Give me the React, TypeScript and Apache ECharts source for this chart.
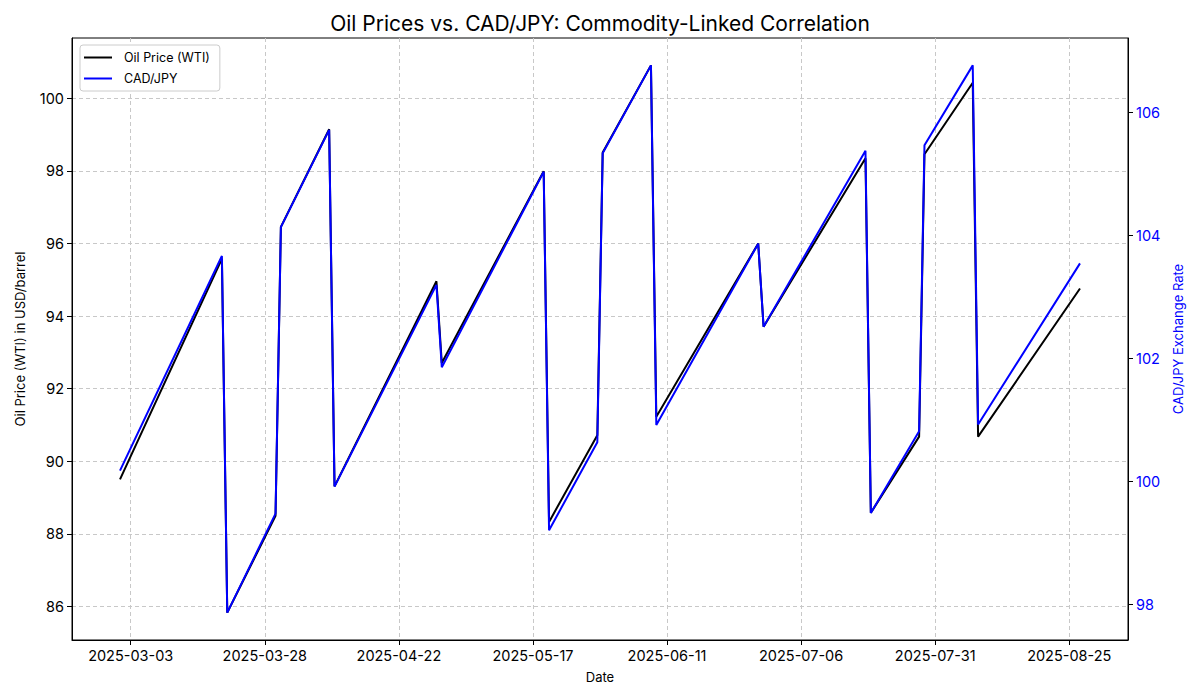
import React, { useEffect, useRef } from "react";
import * as echarts from "echarts";

// corner points of the two series
const dates = [
  "2025-03-01", "2025-03-20", "2025-03-21", "2025-03-30", "2025-03-31", "2025-04-09",
  "2025-04-10", "2025-04-29", "2025-04-30", "2025-05-19", "2025-05-20", "2025-05-29",
  "2025-05-30", "2025-06-08", "2025-06-09", "2025-06-28", "2025-06-29", "2025-07-18",
  "2025-07-19", "2025-07-28", "2025-07-29", "2025-08-07", "2025-08-08", "2025-08-27",
];

const oilPrice = [
  89.5, 95.58, 85.83, 88.5, 96.46, 99.15, 89.31, 94.96, 92.71, 97.99, 88.33, 90.72,
  98.51, 100.91, 91.23, 96.0, 93.71, 98.35, 88.58, 90.68, 98.46, 100.43, 90.68, 94.76,
];

const cadJpy = [
  100.18, 103.67, 97.87, 99.48, 104.14, 105.72, 99.92, 103.2, 101.86, 105.04, 99.21, 100.64,
  105.34, 106.77, 100.92, 103.87, 102.52, 105.38, 99.49, 100.82, 105.47, 106.77, 100.93, 103.55,
];

const dateTicks = [
  "2025-03-03", "2025-03-28", "2025-04-22", "2025-05-17",
  "2025-06-11", "2025-07-06", "2025-07-31", "2025-08-25",
];
const oilTicks = [86, 88, 90, 92, 94, 96, 98, 100];
const cadTicks = [98, 100, 102, 104, 106];

const DAY = 86400000;
const BASE = Date.UTC(2025, 2, 3);
const toDay = (s: string) => (Date.parse(s + "T00:00:00Z") - BASE) / DAY;
const fromDay = (d: number) => new Date(BASE + Math.round(d) * DAY).toISOString().slice(0, 10);

// matplotlib-like 5% margins
const pad = (vals: number[]) => {
  const lo = Math.min(...vals);
  const hi = Math.max(...vals);
  const m = (hi - lo) * 0.05;
  return [lo - m, hi + m];
};

const FONT = "Inter";

const App = () => {
  const chartRef = useRef<HTMLDivElement>(null);

  useEffect(() => {
    document.body.style.margin = "0";
    if (!chartRef.current) return;
    const chart = echarts.init(chartRef.current, null, { renderer: "svg" });

    const days = dates.map(toDay);
    const [xMin, xMax] = pad(days);
    const [oMin, oMax] = pad(oilPrice);
    const [cMin, cMax] = pad(cadJpy);

    const gridLine = { show: true, lineStyle: { color: "#c8c8c8", type: [4, 3], width: 1 } };

    chart.setOption({
      animation: false,
      backgroundColor: "#fff",
      textStyle: { fontFamily: FONT },
      title: {
        text: "Oil Prices vs. CAD/JPY: Commodity-Linked Correlation",
        left: "center",
        top: 8,
        textStyle: { fontSize: 21, fontWeight: "normal", color: "#000", fontFamily: FONT },
      },
      legend: {
        left: 80,
        top: 45,
        orient: "vertical",
        icon: "rect",
        itemWidth: 28,
        itemHeight: 2,
        itemGap: 8,
        padding: [6, 10, 6, 4],
        backgroundColor: "#fff",
        borderColor: "#cccccc",
        borderWidth: 1,
        borderRadius: 3,
        textStyle: { fontSize: 12.5, color: "#000", fontFamily: FONT, padding: [0, 0, 0, 7] },
        data: ["Oil Price (WTI)", "CAD/JPY"],
      },
      grid: {
        left: 72,
        right: 72,
        top: 38,
        bottom: 60,
        show: true,
        borderColor: "#000",
        borderWidth: 1,
        backgroundColor: "transparent",
      },
      xAxis: {
        type: "value",
        min: xMin,
        max: xMax,
        minInterval: 25,
        maxInterval: 25,
        name: "Date",
        nameLocation: "middle",
        nameGap: 30,
        nameTextStyle: { fontSize: 13, color: "#000", fontFamily: FONT },
        axisLine: { show: true, onZero: false, lineStyle: { color: "#000", width: 1 } },
        axisTick: { show: true, length: 5, lineStyle: { color: "#000" }, customValues: dateTicks.map(toDay) },
        axisLabel: {
          customValues: dateTicks.map(toDay),
          formatter: (v: number) => fromDay(v),
          fontSize: 14.5,
          color: "#000",
          margin: 8,
          fontFamily: FONT,
        },
        splitLine: gridLine,
      },
      yAxis: [
        {
          type: "value",
          position: "left",
          min: oMin,
          max: oMax,
          minInterval: 2,
          maxInterval: 2,
          name: "Oil Price (WTI) in USD/barrel",
          nameLocation: "middle",
          nameGap: 46,
          nameTextStyle: { fontSize: 13, color: "#000", fontFamily: FONT },
          axisLine: { show: true, onZero: false, lineStyle: { color: "#000", width: 1 } },
          axisTick: { show: true, length: 5, lineStyle: { color: "#000" }, customValues: oilTicks },
          axisLabel: { customValues: oilTicks, fontSize: 14.5, color: "#000", margin: 8, fontFamily: FONT },
          splitLine: gridLine,
        },
        {
          type: "value",
          position: "right",
          min: cMin,
          max: cMax,
          minInterval: 2,
          maxInterval: 2,
          name: "CAD/JPY Exchange Rate",
          nameLocation: "middle",
          nameGap: 42,
          nameRotate: 90,
          nameTextStyle: { fontSize: 13, color: "#0000ff", fontFamily: FONT },
          axisLine: { show: true, onZero: false, lineStyle: { color: "#000", width: 1 } },
          axisTick: { show: true, length: 5, lineStyle: { color: "#000" }, customValues: cadTicks },
          axisLabel: { customValues: cadTicks, fontSize: 14.5, color: "#0000ff", margin: 8, fontFamily: FONT },
          splitLine: { show: false },
        },
      ],
      series: [
        {
          name: "Oil Price (WTI)",
          type: "line",
          yAxisIndex: 0,
          showSymbol: false,
          color: "#000000",
          lineStyle: { width: 2, color: "#000000" },
          data: days.map((d, i) => [d, oilPrice[i]]),
        },
        {
          name: "CAD/JPY",
          type: "line",
          yAxisIndex: 1,
          showSymbol: false,
          color: "#0000ff",
          lineStyle: { width: 2, color: "#0000ff" },
          data: days.map((d, i) => [d, cadJpy[i]]),
        },
      ],
    });

    return () => {
      chart.dispose();
    };
  }, []);

  return <div ref={chartRef} style={{ width: 1200, height: 700 }} />;
};

export default App;
